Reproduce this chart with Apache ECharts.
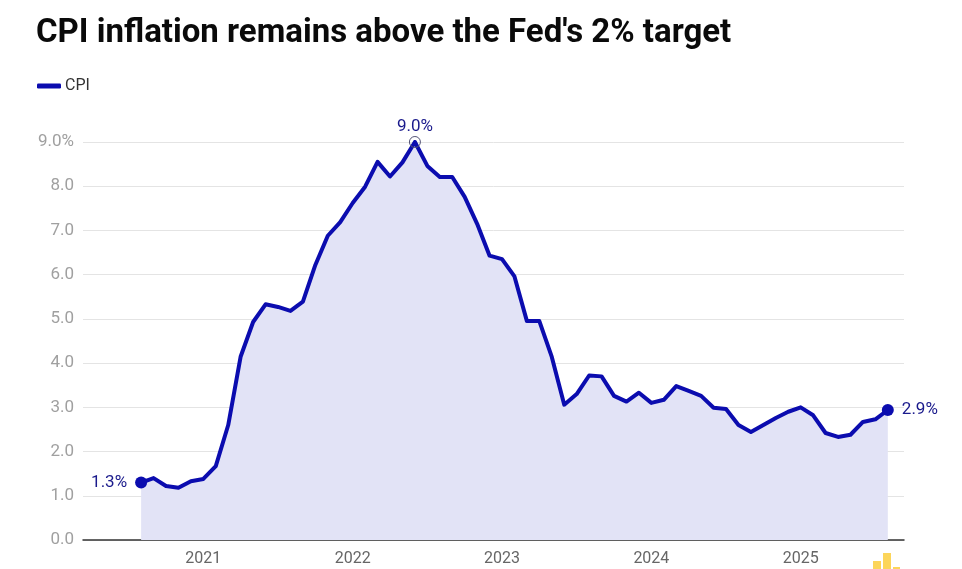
<!DOCTYPE html>
<html>
<head>
<meta charset="utf-8">
<script src="https://cdn.jsdelivr.net/npm/echarts@6/dist/echarts.min.js"></script>
<style>
html,body{margin:0;padding:0;background:#fff;}
#chart{width:962px;height:569px;}
</style>
</head>
<body>
<div id="chart"></div>
<script>
// Monthly categories, Aug 2020 .. Aug 2025
const months = [
  '2020-08','2020-09','2020-10','2020-11','2020-12',
  '2021-01','2021-02','2021-03','2021-04','2021-05','2021-06','2021-07','2021-08','2021-09','2021-10','2021-11','2021-12',
  '2022-01','2022-02','2022-03','2022-04','2022-05','2022-06','2022-07','2022-08','2022-09','2022-10','2022-11','2022-12',
  '2023-01','2023-02','2023-03','2023-04','2023-05','2023-06','2023-07','2023-08','2023-09','2023-10','2023-11','2023-12',
  '2024-01','2024-02','2024-03','2024-04','2024-05','2024-06','2024-07','2024-08','2024-09','2024-10','2024-11','2024-12',
  '2025-01','2025-02','2025-03','2025-04','2025-05','2025-06','2025-07','2025-08'
];
// CPI year-over-year, %
const cpi = [
  1.30,1.40,1.22,1.18,1.33,
  1.38,1.67,2.60,4.15,4.93,5.33,5.27,5.18,5.39,6.22,6.88,7.19,
  7.62,7.99,8.55,8.22,8.54,9.00,8.46,8.21,8.21,7.76,7.15,6.43,
  6.35,5.96,4.95,4.95,4.14,3.06,3.30,3.72,3.70,3.26,3.13,3.33,
  3.10,3.17,3.48,3.37,3.26,2.99,2.96,2.60,2.44,2.60,2.76,2.90,
  3.00,2.82,2.42,2.33,2.38,2.67,2.73,2.94
];
const yearTicks = ['2021','2022','2023','2024','2025'];
const seriesName = 'CPI';
const titleText = "CPI inflation remains above the Fed's 2% target";

const lineData = months.map((m, i) => [i, cpi[i]]);
const firstIdx = 0;
const lastIdx = cpi.length - 1;
const peakIdx = cpi.indexOf(Math.max(...cpi));
const tickIdx = yearTicks.map(y => months.indexOf(y + '-01'));

const lineColor = '#0b0caf';
const labelColor = '#1a1a8c';
const chart = echarts.init(document.getElementById('chart'));
chart.setOption({
  animation: false,
  backgroundColor: '#ffffff',
  title: {
    text: titleText,
    left: 31, top: 12,
    textStyle: { fontFamily: 'Roboto', fontWeight: 'bold', fontSize: 33, color: '#0a0a0a' }
  },
  legend: {
    data: [seriesName],
    left: 32, top: 73,
    icon: 'roundRect',
    itemWidth: 24, itemHeight: 5,
    itemGap: 6,
    textStyle: { fontFamily: 'Roboto', fontSize: 16, color: '#333333', padding: [0,0,0,-1] }
  },
  grid: { left: 83, right: 58, top: 142, bottom: 29, containLabel: false },
  xAxis: {
    type: 'value',
    min: -4.67, max: 61.3,
    splitLine: { show: false },
    axisTick: { show: false },
    axisLine: { show: true, lineStyle: { color: '#333333', width: 1.5 } },
    axisLabel: {
      customValues: tickIdx,
      formatter: v => yearTicks[tickIdx.indexOf(Math.round(v))] || '',
      fontFamily: 'Roboto', fontSize: 16, color: '#666666', margin: 11
    }
  },
  yAxis: {
    type: 'value',
    min: 0, max: 9, interval: 1,
    axisLine: { show: false },
    axisTick: { show: false },
    splitLine: { lineStyle: { color: '#e4e4e4', width: 1 } },
    axisLabel: {
      formatter: v => v === 9 ? '9.0%' : v.toFixed(1),
      fontFamily: 'Roboto', fontSize: 17, color: '#a0a0a0', margin: 9
    }
  },
  series: [
    {
      name: seriesName,
      type: 'line',
      data: lineData,
      showSymbol: false,
      symbol: 'none',
      lineStyle: { color: lineColor, width: 4, join: 'round' },
      itemStyle: { color: lineColor },
      areaStyle: { color: '#e2e3f6', opacity: 1 },
      z: 2
    },
    {
      name: 'marks',
      type: 'scatter',
      silent: true,
      z: 5,
      itemStyle: { opacity: 1 },
      data: [
        {
          value: lineData[firstIdx], symbolSize: 12,
          itemStyle: { color: lineColor, opacity: 1 },
          label: { show: true, position: 'left', distance: 8, formatter: cpi[firstIdx].toFixed(1) + '%' }
        },
        {
          value: lineData[peakIdx], symbolSize: 11,
          itemStyle: { color: 'rgba(255,255,255,0)', borderColor: '#555577', borderWidth: 1, opacity: 1 },
          label: { show: true, position: 'top', distance: 1, formatter: cpi[peakIdx].toFixed(1) + '%' }
        },
        {
          value: lineData[lastIdx], symbolSize: 12,
          itemStyle: { color: lineColor, opacity: 1 },
          label: { show: true, position: 'right', distance: 8, formatter: cpi[lastIdx].toFixed(1) + '%' }
        }
      ],
      label: { fontFamily: 'Roboto', fontSize: 17, color: labelColor, opacity: 1 }
    }
  ],
  graphic: [
    { type: 'rect', left: 873, top: 561, shape: { width: 8, height: 8 }, style: { fill: '#fcd55a' } },
    { type: 'rect', left: 883, top: 553, shape: { width: 8, height: 16 }, style: { fill: '#fcd55a' } },
    { type: 'rect', left: 893, top: 567, shape: { width: 7, height: 2 }, style: { fill: '#fcd55a' } }
  ]
});
</script>
</body>
</html>
